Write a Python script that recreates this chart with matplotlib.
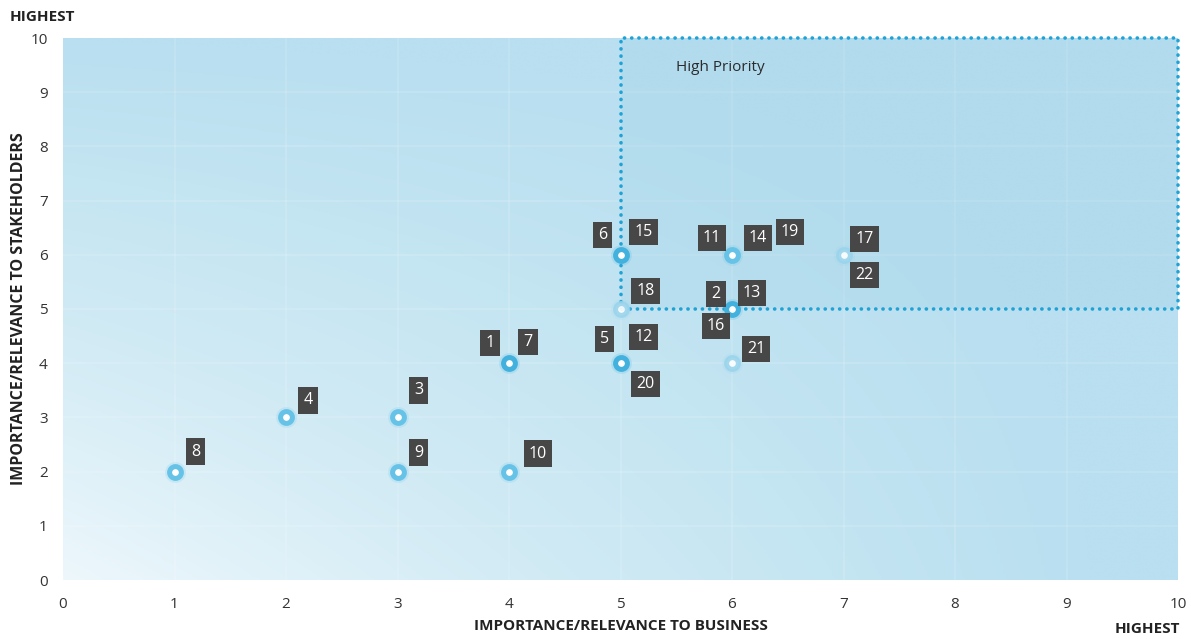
import numpy as np
import matplotlib
matplotlib.use("Agg")
import matplotlib.pyplot as plt
from matplotlib.colors import LinearSegmentedColormap

plt.rcParams['font.family'] = ['Open Sans', 'DejaVu Sans']

# Issue numbers with their scores
issues = [1, 2, 3, 4, 5, 6, 7, 8, 9, 10, 11, 12, 13, 14, 15, 16, 17, 18, 19, 20, 21, 22]
business = [4, 6, 3, 2, 5, 5, 4, 1, 3, 4, 6, 5, 6, 6, 5, 6, 7, 5, 6, 5, 6, 7]
stakeholders = [4, 5, 3, 3, 4, 6, 4, 2, 2, 2, 6, 4, 5, 6, 6, 5, 6, 5, 6, 4, 4, 6]

x_ticks = list(range(0, 11))
y_ticks = list(range(0, 11))
priority_x = (5, 10)
priority_y = (5, 10)

# label box placement around each marker (pixel offsets)
label_offset = {
    1: (-19, 20), 2: (-16, 15), 3: (21, 27), 4: (22, 17), 5: (-16, 24),
    6: (-18, 20), 7: (19, 21), 8: (21, 20), 9: (21, 19), 10: (29, 18),
    11: (-20, 17), 12: (23, 26), 13: (20, 16), 14: (26, 17), 15: (23, 23),
    16: (-16, -17), 17: (21, 16), 18: (25, 18), 19: (58, 23), 20: (25, -21),
    21: (24, 14), 22: (21, -20),
}
# marker shade per position
strong = {(5, 6), (6, 5), (4, 4), (5, 4)}
faint = {(5, 5), (6, 4), (7, 6)}

fig = plt.figure(figsize=(11.91, 6.39), dpi=100)
ax = fig.add_axes([63 / 1191, 59 / 639, 1115 / 1191, 542 / 639])
ax.set_xlim(0, 10)
ax.set_ylim(0, 10)

# soft background gradient: pale at the origin, deeper blue elsewhere
u = np.linspace(0, 1, 400)
v = np.linspace(0, 1, 400)
U, V = np.meshgrid(u, v)
t = 1 - ((1 - U) * (1 - V)) ** 1.0
t = np.clip(t + 0.08 * U, 0, 1)
cmap = LinearSegmentedColormap.from_list(
    'bg', [(0, '#edf7fc'), (0.45, '#d2ebf5'), (0.75, '#c4e5f2'), (1, '#b9dff0')])
ax.imshow(t, extent=[0, 10, 0, 10], origin='lower', cmap=cmap, vmin=0, vmax=1,
          aspect='auto', zorder=0, interpolation='bilinear')

# faint grid
for k in range(1, 10):
    ax.axvline(k, color='white', lw=1.2, alpha=0.15, zorder=1)
    ax.axhline(k, color='white', lw=1.2, alpha=0.15, zorder=1)

# high-priority zone
ax.fill_between(priority_x, priority_y[0], priority_y[1], color='#8ecae3', alpha=0.16,
                zorder=1, lw=0)
bx = [priority_x[0], priority_x[0], priority_x[1], priority_x[1], priority_x[0]]
by = [priority_y[0], priority_y[1], priority_y[1], priority_y[0], priority_y[0]]
ax.plot(bx, by, color='#1fa3d6', lw=2.6, linestyle=(0, (0.05, 1.95)),
        dash_capstyle='round', solid_capstyle='round', clip_on=False, zorder=3)
ax.text(5.5, 9.45, 'High Priority', fontsize=11, color='#2b2b2b', va='center', ha='left',
        zorder=4)

# markers
points = sorted(set(zip(business, stakeholders)))
for (px, py) in points:
    if (px, py) in strong:
        col, a = '#42b1dd', 1.0
    elif (px, py) in faint:
        col, a = '#9ad4ec', 0.9
    else:
        col, a = '#66c3e7', 1.0
    ax.plot(px, py, 'o', ms=15, color=col, alpha=0.18, mew=0, zorder=4)
    ax.plot(px, py, 'o', ms=8.5, mfc='white', mec=col, mew=3.6, alpha=a, zorder=5)

# numbered labels
for n, bx_, sy in zip(issues, business, stakeholders):
    dx, dy = label_offset[n]
    ax.annotate(str(n), (bx_, sy), xytext=(dx, dy), textcoords='offset pixels',
                ha='center', va='center', color='white', fontsize=11.5, zorder=6,
                bbox=dict(boxstyle='square,pad=0.33', fc='#474747', ec='none'))

for s in ax.spines.values():
    s.set_visible(False)
ax.set_xticks(x_ticks)
ax.set_yticks(y_ticks)
ax.tick_params(length=0, labelsize=11, colors='#333333', pad=12)
ax.tick_params(axis='y', pad=11)

ax.set_xlabel('IMPORTANCE/RELEVANCE TO BUSINESS', fontsize=11, fontweight='bold',
              color='#222222', labelpad=5)
ax.set_ylabel('IMPORTANCE/RELEVANCE TO STAKEHOLDERS', fontsize=11.5, fontweight='bold',
              color='#222222')
ax.yaxis.set_label_coords(-(63 - 27) / 1115, 0.5)
fig.text(10 / 1191, 1 - 17 / 639, 'HIGHEST', fontsize=11, fontweight='bold',
         color='#222222', ha='left', va='center')
fig.text(1180 / 1191, 1 - 629 / 639, 'HIGHEST', fontsize=11, fontweight='bold',
         color='#222222', ha='right', va='center')

fig.savefig('out.png', dpi=100, facecolor='white')
